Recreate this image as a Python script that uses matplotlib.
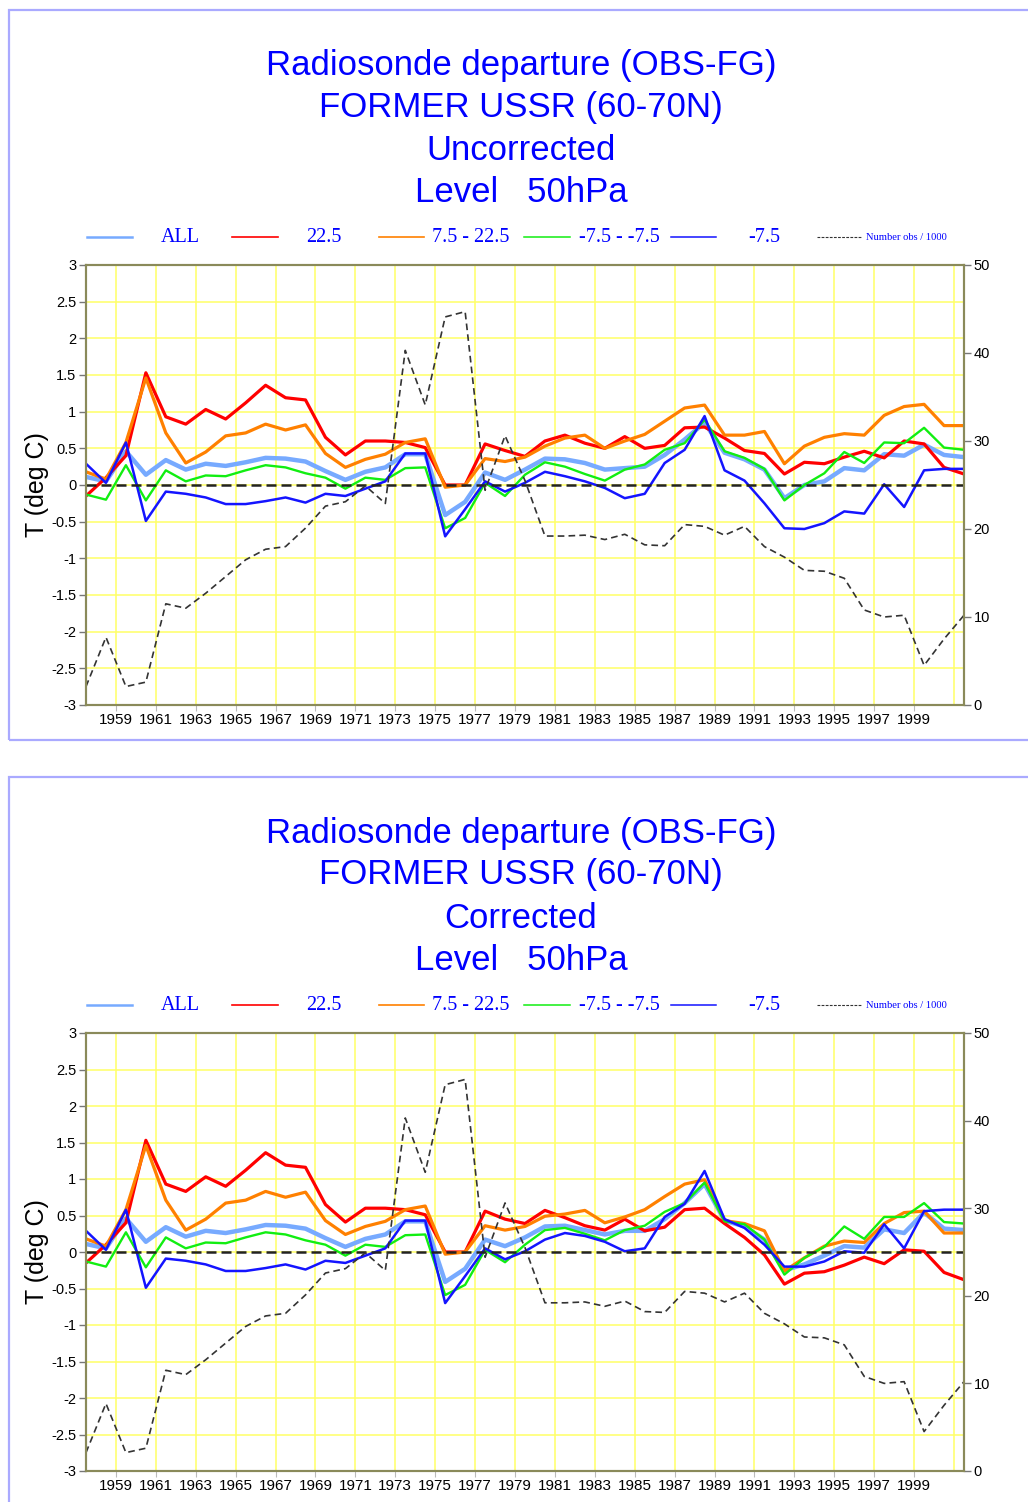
import numpy as np
import matplotlib
matplotlib.use("Agg")
import matplotlib.pyplot as plt
from matplotlib.lines import Line2D
from matplotlib.patches import Rectangle

# ---------------- data ----------------
years = list(range(1957, 2002))

# Uncorrected panel
unc_all = [0.11, 0.05, 0.46, 0.14, 0.34, 0.21, 0.29, 0.26, 0.31, 0.37, 0.36, 0.32, 0.19, 0.07, 0.18,
           0.24, 0.42, 0.42, -0.41, -0.23, 0.17, 0.07, 0.21, 0.36, 0.35, 0.30, 0.21, 0.23, 0.25, 0.41,
           0.62, 0.85, 0.44, 0.35, 0.21, -0.18, 0.00, 0.05, 0.23, 0.20, 0.42, 0.40, 0.55, 0.41, 0.38]
unc_red = [-0.15, 0.10, 0.40, 1.53, 0.93, 0.83, 1.03, 0.90, 1.12, 1.36, 1.19, 1.16, 0.65, 0.41, 0.60,
           0.60, 0.58, 0.51, 0.00, 0.00, 0.56, 0.47, 0.39, 0.60, 0.68, 0.57, 0.50, 0.66, 0.50, 0.54,
           0.78, 0.79, 0.64, 0.47, 0.43, 0.15, 0.31, 0.29, 0.38, 0.46, 0.37, 0.60, 0.56, 0.24, 0.15]
unc_orange = [0.18, 0.08, 0.58, 1.46, 0.71, 0.30, 0.45, 0.67, 0.71, 0.83, 0.75, 0.82, 0.43, 0.24, 0.35,
              0.42, 0.58, 0.63, -0.03, 0.00, 0.36, 0.32, 0.38, 0.53, 0.64, 0.68, 0.50, 0.60, 0.69, 0.87,
              1.05, 1.09, 0.68, 0.68, 0.73, 0.29, 0.53, 0.65, 0.70, 0.68, 0.95, 1.07, 1.10, 0.81, 0.81]
unc_green = [-0.13, -0.20, 0.27, -0.21, 0.20, 0.05, 0.13, 0.12, 0.20, 0.27, 0.24, 0.16, 0.10, -0.05, 0.10,
             0.07, 0.23, 0.24, -0.59, -0.45, 0.03, -0.15, 0.14, 0.31, 0.25, 0.15, 0.06, 0.21, 0.28, 0.48,
             0.57, 0.89, 0.46, 0.37, 0.22, -0.21, 0.00, 0.16, 0.45, 0.30, 0.58, 0.57, 0.78, 0.51, 0.48]
unc_blue = [0.29, 0.03, 0.58, -0.49, -0.09, -0.12, -0.17, -0.26, -0.26, -0.22, -0.17, -0.24, -0.12, -0.15, -0.05,
            0.05, 0.43, 0.43, -0.70, -0.33, 0.05, -0.09, 0.03, 0.18, 0.12, 0.05, -0.04, -0.18, -0.12, 0.30,
            0.48, 0.94, 0.20, 0.06, -0.25, -0.59, -0.60, -0.52, -0.36, -0.39, 0.01, -0.30, 0.20, 0.22, 0.22]

# Corrected panel
cor_all = [0.11, 0.05, 0.46, 0.14, 0.34, 0.21, 0.29, 0.26, 0.31, 0.37, 0.36, 0.32, 0.19, 0.07, 0.18,
           0.24, 0.42, 0.42, -0.41, -0.23, 0.17, 0.08, 0.20, 0.35, 0.36, 0.30, 0.24, 0.29, 0.29, 0.45,
           0.67, 0.93, 0.43, 0.35, 0.17, -0.25, -0.17, -0.05, 0.08, 0.06, 0.31, 0.26, 0.54, 0.32, 0.30]
cor_red = [-0.15, 0.10, 0.40, 1.53, 0.93, 0.83, 1.03, 0.90, 1.12, 1.36, 1.19, 1.16, 0.65, 0.41, 0.60,
           0.60, 0.58, 0.51, 0.00, 0.00, 0.56, 0.45, 0.39, 0.57, 0.47, 0.36, 0.30, 0.45, 0.29, 0.34,
           0.58, 0.60, 0.39, 0.20, -0.04, -0.44, -0.29, -0.27, -0.18, -0.07, -0.16, 0.03, 0.01, -0.28, -0.38]
cor_orange = [0.18, 0.08, 0.58, 1.46, 0.71, 0.30, 0.45, 0.67, 0.71, 0.83, 0.75, 0.82, 0.43, 0.24, 0.35,
              0.42, 0.58, 0.63, -0.03, 0.00, 0.36, 0.30, 0.35, 0.49, 0.52, 0.57, 0.40, 0.48, 0.58, 0.76,
              0.93, 0.99, 0.43, 0.39, 0.29, -0.26, -0.08, 0.08, 0.15, 0.13, 0.39, 0.54, 0.56, 0.26, 0.26]
cor_green = [-0.13, -0.20, 0.27, -0.21, 0.20, 0.05, 0.13, 0.12, 0.20, 0.27, 0.24, 0.16, 0.10, -0.05, 0.10,
             0.07, 0.23, 0.24, -0.59, -0.45, 0.03, -0.14, 0.10, 0.30, 0.33, 0.25, 0.16, 0.30, 0.36, 0.55,
             0.67, 0.95, 0.42, 0.38, 0.17, -0.31, -0.08, 0.07, 0.35, 0.18, 0.48, 0.48, 0.67, 0.41, 0.39]
cor_blue = [0.29, 0.03, 0.58, -0.49, -0.09, -0.12, -0.17, -0.26, -0.26, -0.22, -0.17, -0.24, -0.12, -0.15, -0.05,
            0.05, 0.43, 0.43, -0.70, -0.33, 0.05, -0.10, 0.01, 0.17, 0.26, 0.22, 0.14, 0.01, 0.05, 0.48,
            0.66, 1.11, 0.45, 0.33, 0.10, -0.20, -0.20, -0.13, 0.01, -0.01, 0.38, 0.05, 0.56, 0.58, 0.58]

# Number of observations / 1000 (same in both panels)
nobs = [2.1, 7.7, 2.1, 2.6, 11.5, 11.0, 12.7, 14.6, 16.5, 17.7, 18.0, 20.1, 22.6, 23.1, 24.9,
        22.9, 40.3, 34.1, 44.1, 44.7, 24.4, 30.6, 25.5, 19.2, 19.2, 19.3, 18.8, 19.4, 18.2, 18.1,
        20.5, 20.3, 19.3, 20.3, 18.0, 16.8, 15.3, 15.2, 14.4, 10.8, 10.0, 10.2, 4.5, 7.5, 10.2]

titles_top = ["Radiosonde departure (OBS-FG)", "FORMER USSR (60-70N)", "Uncorrected", "Level   50hPa"]
titles_bot = ["Radiosonde departure (OBS-FG)", "FORMER USSR (60-70N)", "Corrected", "Level   50hPa"]
legend_labels = ["ALL", "22.5", "7.5 - 22.5", "-7.5 - -7.5", "-7.5", "Number obs / 1000"]
xtick_years = list(range(1959, 2000, 2))
yticks_left = [-3, -2.5, -2, -1.5, -1, -0.5, 0, 0.5, 1, 1.5, 2, 2.5, 3]
yticks_right = [0, 10, 20, 30, 40, 50]

# ---------------- style ----------------
C_ALL = "#77aaff"
C_RED = "#ff0000"
C_ORA = "#ff8000"
C_GRN = "#11ee11"
C_BLU = "#1414ff"
C_SPINE = "#8a8a5a"
C_GRID = "#ffff66"
C_BOX = "#aaaaff"
TITLE_BLUE = "#0000ff"

W, H = 1028, 1502
fig = plt.figure(figsize=(W / 100, H / 100), dpi=100)
fig.patch.set_facecolor("white")


def fx(px):
    return px / W


def fy(py):
    return 1 - py / H


def draw_panel(box_top, box_bottom, ax_top, ax_bot, title_y, leg_y, titles,
               s_all, s_red, s_ora, s_grn, s_blu):
    # panel frame
    fig.add_artist(Rectangle((fx(9), fy(box_bottom)), fx(1100 - 9), fy(box_top) - fy(box_bottom),
                             transform=fig.transFigure, fill=False, edgecolor=C_BOX, lw=1.6,
                             clip_on=False))
    # titles
    for t, yy in zip(titles, title_y):
        fig.text(fx(521), fy(yy), t, ha="center", va="center", color=TITLE_BLUE,
                 fontsize=25, family="Liberation Sans")
    # legend
    leg_lines = [(87, 132, C_ALL, 1.8, "-"), (232, 278, C_RED, 1.2, "-"), (379, 424, C_ORA, 1.2, "-"),
                 (524, 570, C_GRN, 1.1, "-"), (671, 716, C_BLU, 1.1, "-"), (817, 862, "#333333", 0.8, "--")]
    leg_tx = [161, 306, 432, 579, 748, 866]
    for (x0, x1, c, lw, ls), tx, lab in zip(leg_lines, leg_tx, legend_labels):
        ln = Line2D([fx(x0), fx(x1)], [fy(leg_y), fy(leg_y)], transform=fig.transFigure,
                    color=c, lw=lw, ls=ls)
        if ls == "--":
            ln.set_dashes((2.5, 1.2))
        fig.add_artist(ln)
        fs = 7.6 if lab.startswith("Number") else 14.5
        fig.text(fx(tx), fy(leg_y), lab, ha="left", va="center", color=TITLE_BLUE,
                 fontsize=fs, family="Liberation Serif")

    ax = fig.add_axes([fx(86), fy(ax_bot), fx(964 - 86), fy(ax_top) - fy(ax_bot)])
    x = np.array(years) + 0.5
    ax.set_xlim(1957.5, 2001.5)
    ax.set_ylim(-3, 3)
    # grid
    for gx in range(1959, 2002, 2):
        ax.axvline(gx, color=C_GRID, lw=1.1, zorder=0)
    for gy in yticks_left:
        ax.axhline(gy, color=C_GRID, lw=1.1, zorder=0)

    ax2 = ax.twinx()
    ax2.set_ylim(0, 50)

    ax.plot(x, s_all, color=C_ALL, lw=3.2, zorder=3, solid_joinstyle="round")
    ax.plot(x, s_red, color=C_RED, lw=2.3, zorder=4)
    ax.plot(x, s_ora, color=C_ORA, lw=2.3, zorder=4)
    ax.plot(x, s_grn, color=C_GRN, lw=1.7, zorder=5)
    ax.plot(x, s_blu, color=C_BLU, lw=1.8, zorder=6)
    zl = ax.axhline(0, color="#222222", lw=1.8, zorder=7)
    zl.set_dashes((4, 2))

    ob, = ax2.plot(x, nobs, color="#333333", lw=1.2)
    ob.set_dashes((4, 2.5))

    ax.set_yticks(yticks_left)
    ax.set_yticklabels([f"{v:g}" for v in yticks_left], fontsize=10.5, family="Liberation Sans")
    ax.set_xticks(xtick_years)
    ax.set_xticklabels([str(v) for v in xtick_years], fontsize=11, family="Liberation Sans")
    ax.tick_params(axis="y", direction="out", length=5, width=1, color="#777777", pad=2)
    ax.tick_params(axis="x", direction="out", length=4, width=0.8, color="#bbbbbb", pad=2)
    ax2.set_yticks(yticks_right)
    ax2.set_yticklabels([str(v) for v in yticks_right], fontsize=10.5, family="Liberation Sans")
    ax2.tick_params(axis="y", direction="out", length=5, width=1, color="#777777", pad=2)
    for a in (ax, ax2):
        for s in a.spines.values():
            s.set_color(C_SPINE)
            s.set_linewidth(1.5)
    ax.set_ylabel("T (deg C)", fontsize=18, family="Liberation Sans")
    ax.yaxis.set_label_coords((49 - 86) / (964 - 86), 0.5)
    ax.set_zorder(ax2.get_zorder() - 1)
    ax.patch.set_visible(True)
    ax2.patch.set_visible(False)
    return ax


draw_panel(10, 740, 265, 705, [65, 107, 150, 192], 237, titles_top,
           unc_all, unc_red, unc_orange, unc_green, unc_blue)
draw_panel(777, 1540, 1033, 1471, [833, 875, 918, 961], 1005, titles_bot,
           cor_all, cor_red, cor_orange, cor_green, cor_blue)

fig.savefig("out.png", dpi=100)
